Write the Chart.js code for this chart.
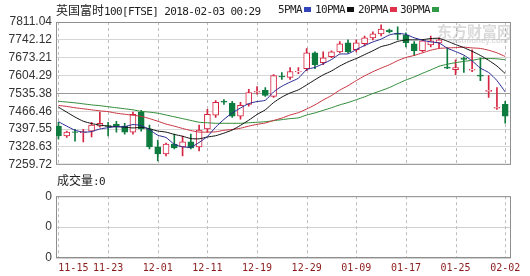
<!DOCTYPE html>
<html><head><meta charset="utf-8">
<script src="https://cdn.jsdelivr.net/npm/chart.js@4.4.1/dist/chart.umd.min.js"></script>
<style>
html,body{margin:0;padding:0;background:#fff;}
#wrap{position:relative;width:530px;height:276px;overflow:hidden;}
canvas{position:absolute;left:0;}
#c1{top:0;}
#c2{top:185px;}
.t{position:absolute;white-space:nowrap;color:#222;line-height:16px;}
.mono{font-family:"DejaVu Sans Mono",monospace;font-size:11px;letter-spacing:-0.6px;}
.cjk{font-family:"Noto Sans CJK SC",sans-serif;font-size:12px;}
.sq{display:inline-block;width:7px;height:5px;margin-left:2px;vertical-align:middle;position:relative;top:-1px;}
.wm{position:absolute;white-space:nowrap;color:rgba(150,150,150,0.35);font-weight:bold;}
</style></head>
<body><div id="wrap">
<canvas id="c1" width="530" height="176"></canvas>
<canvas id="c2" width="530" height="91"></canvas>
<div class="t" style="left:56px;top:2px;"><span class="cjk">英国富时</span><span class="mono">100[FTSE] 2018-02-03 00:29</span></div>
<div class="t mono" style="left:278px;top:2px;">5PMA<span class="sq" style="background:#3344bb"></span></div>
<div class="t mono" style="left:315px;top:2px;">10PMA<span class="sq" style="background:#111"></span></div>
<div class="t mono" style="left:358px;top:2px;">20PMA<span class="sq" style="background:#e0304a"></span></div>
<div class="t mono" style="left:400px;top:2px;">30PMA<span class="sq" style="background:#2f9a45"></span></div>
<div class="wm" style="left:437px;top:20px;font-family:'Noto Sans CJK SC';font-size:15px;">东方财富网</div>
<div class="wm" style="left:448px;top:36px;font-family:'Liberation Sans';font-size:8px;">eastmoney.com</div>
<div class="t cjk" style="left:57px;top:172px;">成交量<span class="mono">:0</span></div>
</div>
<script>
const dates = ['11-15','11-16','11-17','11-20','11-21','11-22','11-23','11-24','11-27','11-28','11-29','11-30',
 '12-01','12-04','12-05','12-06','12-07','12-08','12-11','12-12','12-13','12-14','12-15','12-18','12-19','12-20','12-21','12-22','12-27','12-28','12-29',
 '01-02','01-03','01-04','01-05','01-08','01-09','01-10','01-11','01-12','01-15','01-16','01-17','01-18','01-19','01-22','01-23','01-24','01-25','01-26','01-29','01-30','01-31',
 '02-01','02-02'];
const opens  = [7409,7371,7387,7384,7390,7409,7411,7417,7409,7386,7463,7397,7329,7302,7340,7329,7348,7329,7398,7451,7505,7497,7447,7493,7540,7547,7524,7602,7597,7618,7631,7692,7654,7677,7696,7731,7704,7727,7750,7765,7780,7767,7761,7727,7700,7723,7730,7637,7627,7671,7625,7606,7543,7478,7493];
const highs  = [7424,7390,7397,7397,7424,7463,7424,7428,7420,7463,7470,7413,7355,7344,7378,7371,7378,7413,7474,7508,7512,7505,7501,7551,7562,7558,7608,7616,7635,7635,7708,7696,7696,7700,7735,7742,7742,7757,7773,7800,7784,7792,7769,7735,7742,7757,7750,7711,7665,7677,7704,7673,7604,7558,7505];
const lows   = [7359,7365,7351,7348,7367,7405,7371,7386,7378,7378,7390,7321,7275,7294,7321,7294,7321,7313,7386,7443,7493,7443,7436,7486,7532,7524,7520,7589,7589,7612,7623,7631,7646,7673,7692,7692,7696,7719,7742,7757,7769,7742,7715,7681,7696,7715,7711,7631,7608,7616,7619,7585,7520,7474,7420];
const closes = [7371,7386,7385,7387,7413,7420,7408,7406,7386,7455,7398,7329,7302,7340,7325,7348,7325,7394,7455,7501,7502,7447,7489,7539,7543,7528,7604,7599,7620,7621,7692,7646,7673,7696,7727,7696,7731,7750,7765,7784,7773,7763,7731,7700,7738,7738,7742,7633,7635,7667,7629,7602,7547,7482,7447];
const ma5  = [7426,7409,7393,7386,7388,7398,7403,7407,7407,7415,7411,7395,7374,7365,7339,7329,7328,7346,7369,7405,7435,7460,7479,7496,7504,7509,7541,7563,7579,7594,7627,7636,7650,7666,7687,7688,7705,7720,7734,7745,7761,7767,7763,7750,7741,7734,7730,7710,7697,7683,7661,7633,7616,7585,7541];
const ma10 = [7482,7463,7444,7428,7419,7413,7409,7407,7405,7402,7404,7399,7390,7386,7377,7370,7361,7360,7367,7372,7382,7394,7412,7432,7454,7472,7500,7521,7537,7549,7568,7588,7607,7622,7641,7657,7670,7685,7700,7716,7724,7736,7742,7742,7743,7747,7748,7737,7724,7712,7698,7682,7663,7641,7612];
const ma20 = [7489,7485,7480,7476,7472,7468,7465,7459,7455,7451,7447,7438,7428,7417,7409,7400,7392,7386,7386,7387,7393,7396,7401,7409,7416,7421,7431,7440,7452,7461,7475,7491,7510,7527,7548,7565,7585,7603,7619,7633,7646,7662,7674,7682,7692,7702,7709,7711,7712,7714,7711,7709,7702,7692,7678];
const ma30 = [7505,7502,7499,7495,7491,7488,7484,7480,7476,7472,7466,7463,7459,7452,7445,7438,7431,7424,7422,7420,7420,7420,7420,7422,7424,7426,7430,7434,7438,7441,7452,7460,7470,7480,7491,7500,7511,7522,7535,7546,7558,7573,7587,7599,7613,7626,7640,7648,7654,7659,7663,7669,7670,7669,7665];
const yTickLabels = ['7811.04','7742.12','7673.21','7604.29','7535.38','7466.46','7397.55','7328.63','7259.72'];
const xTickLabels = ['11-15','11-23','12-01','12-11','12-19','12-29','01-09','01-17','01-25','02-02'];
const volumes = [0,0,0,0,0,0,0,0,0,0,0,0,0,0,0,0,0,0,0,0,0,0,0,0,0,0,0,0,0,0,0,0,0,0,0,0,0,0,0,0,0,0,0,0,0,0,0,0,0,0,0,0,0,0,0];
const volTickLabels = ['0','0','0','0','0'];

const RED = '#d62541', GREEN = '#0e7b3e';
const xTickIdx = xTickLabels.map(l => dates.indexOf(l));
const up = closes.map((c,i) => c >= opens[i]);
const yAsc = yTickLabels.slice().reverse();

// frame + dashed vertical grid lines at the date ticks (positions from the x scale)
const frame = {id:'frame', beforeDatasetsDraw(chart){
  const {ctx, chartArea:a} = chart;
  const xs = chart.scales.x;
  ctx.save();
  ctx.strokeStyle = '#bdbdbd'; ctx.lineWidth = 1; ctx.setLineDash([3, 3]);
  xTickIdx.forEach(v => {
    const px = Math.round(xs.getPixelForValue(v)) + 0.5;
    ctx.beginPath(); ctx.moveTo(px, a.top); ctx.lineTo(px, a.bottom); ctx.stroke();
  });
  ctx.setLineDash([]);
  ctx.strokeStyle = '#8f8f8f';
  ctx.strokeRect(a.left+0.5, a.top+0.5, a.right-a.left-1, a.bottom-a.top-1);
  ctx.restore();
}};

const xMin = -0.3, xMax = dates.length - 0.3;
const lineDs = (arr, col) => ({type:'line', data: arr.map((v,i)=>({x:i,y:v})), borderColor: col, borderWidth: 1, pointRadius: 0, tension: 0.2});
const xGridAxis = () => ({type: 'linear', min: xMin, max: xMax, offset: false,
  afterBuildTicks: s => { s.ticks = xTickIdx.map(v => ({value: v})); },
  afterFit: s => { s.height = 0; },
  ticks: {display: false}, grid: {display: false, offset: false},
  border: {display: false}});

new Chart(document.getElementById('c1'), {
  type: 'bar',
  data: {datasets: [
    lineDs(ma5, '#27288f'),
    lineDs(ma10, '#111111'),
    lineDs(ma20, '#c8323f'),
    lineDs(ma30, '#2c8a34'),
    {type:'bar', data: opens.map((o,i)=>({x:i, y:[o, closes[i]]})),
     backgroundColor: up.map(u => u ? '#ffffff' : GREEN), borderColor: up.map(u => u ? RED : GREEN),
     borderWidth: 1, borderSkipped: false, barThickness: 6, grouped: false},
    {type:'bar', data: lows.map((l,i)=>({x:i, y:[l, highs[i]]})),
     backgroundColor: up.map(u => u ? RED : GREEN), borderWidth: 0, barThickness: 1, grouped: false}
  ]},
  options: {
    responsive: false, animation: false, devicePixelRatio: 1, events: [],
    layout: {padding: {top: 22, right: 19, bottom: 10, left: 0}},
    plugins: {legend: {display: false}, tooltip: {enabled: false}},
    scales: {
      x: xGridAxis(),
      y: {type: 'linear', min: Number(yAsc[0]), max: Number(yAsc[yAsc.length-1]),
          afterBuildTicks: s => { s.ticks = yAsc.map(v => ({value: Number(v)})); },
          afterFit: s => { s.width = 56; },
          ticks: {padding: 4, color: '#333', font: {family: 'Liberation Sans', size: 12},
                  callback: (v, i) => yAsc[i]},
          grid: {color: c => c.index === 4 ? '#9a9a9a' : '#d6d6d6', drawTicks: false},
          border: {display: false}}
    }
  },
  plugins: [frame]
});

new Chart(document.getElementById('c2'), {
  type: 'bar',
  data: {datasets: [{data: volumes.map((v,i)=>({x:i, y:v})), backgroundColor: '#888', barThickness: 6}]},
  options: {
    responsive: false, animation: false, devicePixelRatio: 1, events: [],
    layout: {padding: {top: 7, right: 19, bottom: 0, left: 0}},
    plugins: {legend: {display: false}, tooltip: {enabled: false}},
    scales: {
      x: xGridAxis(),
      x2: {type: 'linear', position: 'bottom', min: xMin, max: xMax, offset: false,
          afterBuildTicks: s => { s.ticks = xTickIdx.map((v,k) => ({value: k === 0 ? v + 1.8 : v})); },
          afterFit: s => { s.height = 18; },
          grid: {display: false, drawTicks: false, offset: false}, border: {display: false},
          ticks: {padding: 4, maxRotation: 0, autoSkip: false, color: '#8b1a1a',
                  font: {family: 'DejaVu Sans Mono', size: 10},
                  callback: (v, i) => xTickLabels[i]}},
      y: {type: 'linear', min: 0, max: volTickLabels.length - 1,
          afterBuildTicks: s => { s.ticks = volTickLabels.map((t,i) => ({value: i})); },
          afterFit: s => { s.width = 56; },
          ticks: {padding: 4, color: '#333', font: {family: 'Liberation Sans', size: 12},
                  callback: (v, i) => volTickLabels[i]},
          grid: {color: '#d0d0d0', drawTicks: false},
          border: {display: false}}
    }
  },
  plugins: [frame]
});
</script>
</body></html>
